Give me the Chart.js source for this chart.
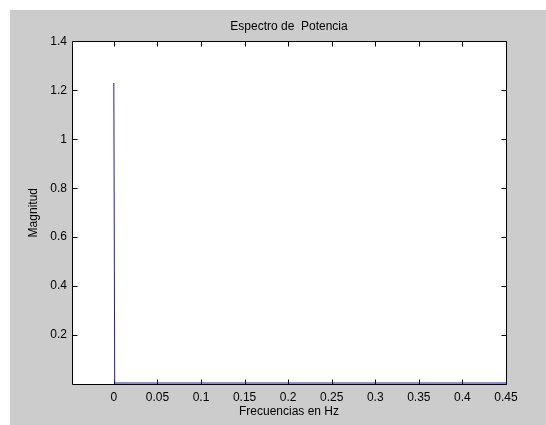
<!DOCTYPE html>
<html>
<head>
<meta charset="utf-8">
<script src="https://cdn.jsdelivr.net/npm/chart.js@4"></script>
<style>
  html, body { margin: 0; padding: 0; background: #fff; }
  #wrap { width: 546px; height: 425px; }
</style>
</head>
<body>
<div id="wrap"><canvas id="espectro" width="546" height="425"></canvas></div>
<script>
// ---- datos ----
const freqs = [0, 0.001, 0.05, 0.1, 0.15, 0.2, 0.25, 0.3, 0.35, 0.4, 0.45];
const mags  = [1.23, 0.004, 0.004, 0.004, 0.004, 0.004, 0.004, 0.004, 0.004, 0.004, 0.004];
const xTicks = [0, 0.05, 0.1, 0.15, 0.2, 0.25, 0.3, 0.35, 0.4, 0.45];
const yTicks = [0.2, 0.4, 0.6, 0.8, 1, 1.2, 1.4];

const FONT = { family: "'Liberation Sans', Arial, sans-serif", size: 12 };

// fondo gris tipo figura + ejes blancos
const fondo = {
  id: "fondo",
  beforeDraw(chart) {
    const { ctx, chartArea: a } = chart;
    ctx.save();
    ctx.fillStyle = "#fff";
    ctx.fillRect(0, 0, chart.width, chart.height);
    ctx.fillStyle = "#cccccc";
    ctx.fillRect(10, 10, chart.width - 10, chart.height - 10);
    ctx.fillStyle = "#fff";
    ctx.fillRect(a.left, a.top, a.right - a.left, a.bottom - a.top);
    ctx.restore();
  },
  beforeDatasetsDraw(chart) {
    // caja y marcas hacia adentro
    const { ctx, chartArea: a, scales } = chart;
    const L = Math.round(a.left) + 0.5, R = Math.round(a.right) + 0.5;
    const T = Math.round(a.top) + 0.5, B = Math.round(a.bottom) + 0.5;
    ctx.save();
    ctx.strokeStyle = "#000";
    ctx.lineWidth = 1;
    ctx.beginPath();
    ctx.rect(L, T, R - L, B - T);
    xTicks.forEach(v => {
      const px = Math.round(scales.x.getPixelForValue(v)) + 0.5;
      ctx.moveTo(px, B); ctx.lineTo(px, B - 5);
      ctx.moveTo(px, T); ctx.lineTo(px, T + 5);
    });
    yTicks.forEach(v => {
      const py = Math.round(scales.y.getPixelForValue(v)) + 0.5;
      ctx.moveTo(L, py); ctx.lineTo(L + 5, py);
      ctx.moveTo(R, py); ctx.lineTo(R - 5, py);
    });
    ctx.stroke();
    ctx.restore();
  }
};

new Chart(document.getElementById("espectro"), {
  type: "scatter",
  data: {
    datasets: [{
      data: freqs.map((f, i) => ({ x: f, y: mags[i] })),
      showLine: true,
      borderColor: "#1f1f9a",
      borderWidth: 1,
      pointRadius: 0,
      tension: 0
    }]
  },
  options: {
    responsive: false,
    animation: false,
    layout: { padding: { left: 0, top: 0, right: 40, bottom: 0 } },
    plugins: {
      legend: { display: false },
      tooltip: { enabled: false },
      title: {
        display: true,
        fullSize: false,
        text: "Espectro de  Potencia",
        color: "#000",
        font: { ...FONT, weight: "normal" },
        padding: { top: 19, bottom: 8 }
      }
    },
    scales: {
      x: {
        type: "linear",
        min: -0.048,
        max: 0.45,
        afterBuildTicks: s => { s.ticks = xTicks.map(v => ({ value: v })); },
        afterFit: s => { s.height = 41; },
        grid: { display: false, drawTicks: false },
        border: { display: false },
        ticks: { color: "#000", font: FONT, padding: 6, maxRotation: 0, autoSkip: false, callback: v => String(v) },
        title: { display: true, text: "Frecuencias en Hz", color: "#000", font: FONT, padding: { top: 0, bottom: 6 } }
      },
      y: {
        min: 0,
        max: 1.4,
        afterBuildTicks: s => { s.ticks = yTicks.map(v => ({ value: v })); },
        afterFit: s => { s.width = 72; },
        grid: { display: false, drawTicks: false },
        border: { display: false },
        ticks: { color: "#000", font: FONT, padding: 5, autoSkip: false, callback: v => String(v) },
        title: { display: true, text: "Magnitud", color: "#000", font: FONT, padding: { top: 26, bottom: 0 } }
      }
    }
  },
  plugins: [fondo]
});
</script>
</body>
</html>
